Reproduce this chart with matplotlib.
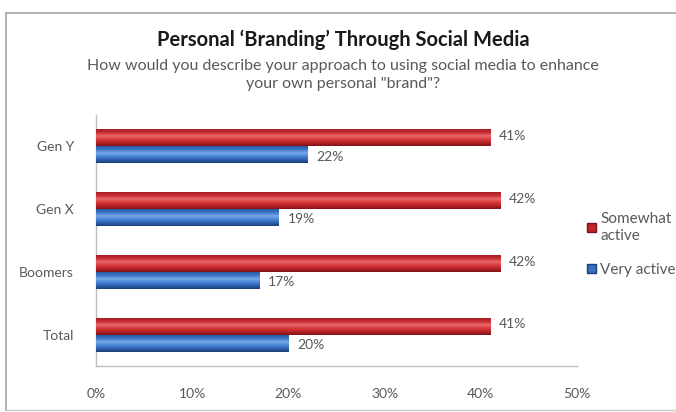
import matplotlib
matplotlib.use("Agg")
import matplotlib.pyplot as plt
import numpy as np
from matplotlib.colors import LinearSegmentedColormap
from matplotlib.lines import Line2D
from matplotlib.patches import Patch

categories = ["Total", "Boomers", "Gen X", "Gen Y"]
somewhat_active = [41, 42, 42, 41]
very_active = [20, 17, 19, 22]
series_names = ["Somewhat\nactive", "Very active"]
xticks = [0, 10, 20, 30, 40, 50]
xtick_labels = ["0%", "10%", "20%", "30%", "40%", "50%"]

title = "Personal \u2018Branding\u2019 Through Social Media"
subtitle = "How would you describe your approach to using social media to enhance\nyour own personal \"brand\"?"

plt.rcParams['font.family'] = ['Lato', 'DejaVu Sans']
gray = "#595959"

fig = plt.figure(figsize=(6.76, 4.12), dpi=100)
fig.patch.set_facecolor("white")
ax = fig.add_axes([96/676, 1 - 366/412, (577-96)/676, (366-115)/412])

red_cmap = LinearSegmentedColormap.from_list(
    "r", ["#7E1416", "#B82227", "#D8383C", "#E96A6C", "#C92C31", "#A51E22"])
blue_cmap = LinearSegmentedColormap.from_list(
    "b", ["#1B3F78", "#2E62B0", "#4A86D6", "#78A8E6", "#3C76C8", "#2A5CA6"])

h = 0.27
y = np.arange(len(categories))
grad = np.linspace(0, 1, 64).reshape(-1, 1)

bars_r = ax.barh(y + h/2, somewhat_active, height=h, color="#C8282D", edgecolor="none", zorder=2)
bars_b = ax.barh(y - h/2, very_active, height=h, color="#3A70C0", edgecolor="none", zorder=2)

for bars, cmap in ((bars_r, red_cmap), (bars_b, blue_cmap)):
    for b in bars:
        x0, y0 = b.get_x(), b.get_y()
        w, hh = b.get_width(), b.get_height()
        ax.imshow(grad, cmap=cmap, extent=[x0, x0 + w, y0, y0 + hh],
                  origin="lower", aspect="auto", zorder=3, interpolation="bilinear")

for yi, v in zip(y, somewhat_active):
    ax.text(v + 0.9, yi + h/2 + 0.03, f"{v}%", va="center", ha="left", fontsize=10, color=gray)
for yi, v in zip(y, very_active):
    ax.text(v + 0.9, yi - h/2 - 0.03, f"{v}%", va="center", ha="left", fontsize=10, color=gray)

ax.set_xlim(0, 50)
ax.set_ylim(-0.5, 3.5)
ax.set_xticks(xticks)
ax.set_xticklabels(xtick_labels)
ax.set_yticks(y)
ax.set_yticklabels(categories)
ax.tick_params(axis="both", length=0, colors=gray, labelsize=10)
ax.tick_params(axis="y", pad=16)
ax.tick_params(axis="x", pad=16)
for s in ("top", "right"):
    ax.spines[s].set_visible(False)
for s in ("left", "bottom"):
    ax.spines[s].set_color("#BFBFBF")
    ax.spines[s].set_linewidth(1)

# legend (manual placement to match reference)
handles = [Patch(facecolor="#C0262B", edgecolor="#7E1416"),
           Patch(facecolor="#3A70C0", edgecolor="#1B3F78")]
leg = fig.legend(handles, series_names, loc="upper left",
                 bbox_to_anchor=(579/676, 1 - 204/412), frameon=False,
                 fontsize=11, handlelength=0.6, handleheight=0.6,
                 handletextpad=0.3, labelspacing=1.3, borderpad=0)
for t in leg.get_texts():
    t.set_color(gray)
    t.set_linespacing(1.3)

fig.text(343/676, 1 - 40/412, title, ha="center", va="center",
         fontsize=14.5, fontweight="bold", color="#1a1a1a")
fig.text(343/676, 1 - 75/412, subtitle, ha="center", va="center",
         fontsize=11.5, color=gray, linespacing=1.3)

# outer chart border
fig.add_artist(Line2D([6/676, 1.0], [1 - 13/412, 1 - 13/412], transform=fig.transFigure,
                      color="#A6A6A6", lw=1.2))
fig.add_artist(Line2D([6/676, 6/676], [1 - 13/412, 1 - 410/412], transform=fig.transFigure,
                      color="#A6A6A6", lw=1.2))
fig.add_artist(Line2D([6/676, 1.0], [1 - 410/412, 1 - 410/412], transform=fig.transFigure,
                      color="#C8C8C8", lw=1.0))

fig.savefig("out.png", dpi=100)
